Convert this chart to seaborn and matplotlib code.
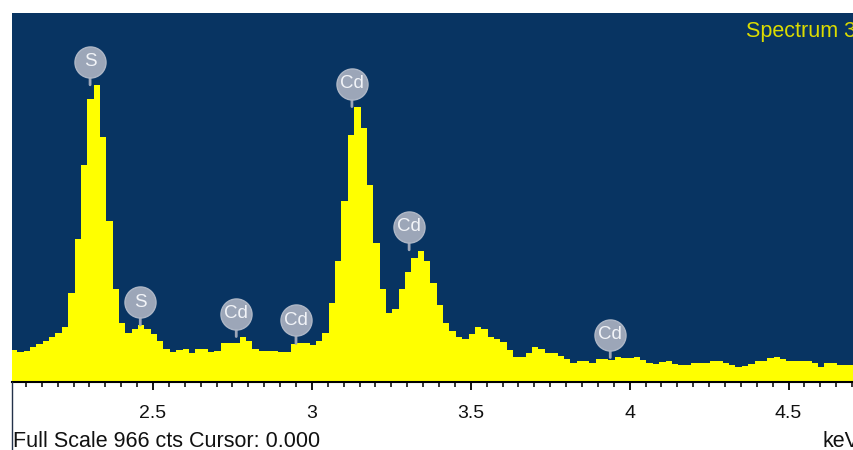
import numpy as np
import pandas as pd
import matplotlib
matplotlib.use("Agg")
import matplotlib.pyplot as plt
from matplotlib.ticker import MultipleLocator
from matplotlib.transforms import offset_copy
import seaborn as sns

# ---- data ----
channel_start = 2.053     # keV, first channel lower edge
channel_width = 0.02      # keV
counts = [
    85, 79, 81, 92, 99, 107, 118, 129, 143, 232,
    374, 568, 741, 778, 642, 422, 243, 154, 129, 139,
    149, 139, 125, 108, 86, 78, 83, 86, 77, 86,
    86, 78, 81, 103, 103, 103, 117, 108, 86, 81,
    81, 81, 78, 78, 99, 103, 103, 97, 108, 129,
    208, 317, 474, 647, 721, 664, 516, 363, 243, 181,
    191, 243, 289, 324, 343, 317, 258, 202, 154, 134,
    117, 113, 125, 143, 139, 117, 112, 106, 85, 66,
    66, 77, 91, 86, 75, 75, 68, 59, 51, 55,
    55, 51, 60, 60, 58, 65, 62, 62, 65, 58,
    49, 46, 53, 56, 47, 45, 45, 51, 51, 51,
    55, 55, 49, 45, 40, 42, 46, 55, 55, 62,
    66, 59, 56, 56, 56, 56, 49, 40, 49, 49,
    45, 45, 45,
]
peak_labels = ["S", "S", "Cd", "Cd", "Cd", "Cd", "Cd"]
peak_energy = [2.302, 2.460, 2.762, 2.950, 3.126, 3.306, 3.939]
peak_height = [778, 149, 119, 101, 721, 346, 64]
tick_values = [2.5, 3, 3.5, 4, 4.5]
tick_labels = ["2.5", "3", "3.5", "4", "4.5"]
full_scale = 966
x_range = (2.0563, 4.706)

n = len(counts)
edges = channel_start + channel_width * np.arange(n + 1)
centers = edges[:-1] + channel_width / 2
df = pd.DataFrame({"energy": centers, "counts": counts})

# ---- style ----
sns.set_style("white")
plt.rcParams["font.family"] = ["Liberation Sans", "DejaVu Sans"]

NAVY = "#083462"
YELLOW = "#FFFF00"

fig = plt.figure(figsize=(8.54, 4.5), dpi=100)
fig.patch.set_facecolor("white")
ax = fig.add_axes([12 / 854, 1 - 382 / 450, 842 / 854, 369 / 450])
ax.set_facecolor(NAVY)

sns.histplot(data=df, x="energy", weights="counts",
             binwidth=channel_width, binrange=(float(edges[0]), float(edges[-1])),
             element="step", fill=True, color=YELLOW, alpha=1,
             linewidth=0, ax=ax)

ax.set_xlim(*x_range)
ax.set_ylim(0, full_scale)
ax.set_xlabel("")
ax.set_ylabel("")
ax.set_yticks([])
for s in ["left", "top", "right"]:
    ax.spines[s].set_visible(False)
ax.spines["bottom"].set_color("black")
ax.spines["bottom"].set_linewidth(1.5)

ax.set_xticks(tick_values)
ax.set_xticklabels(tick_labels)
ax.xaxis.set_minor_locator(MultipleLocator(0.05))
ax.tick_params(axis="x", which="major", direction="out", length=6, width=1.3,
               color="black", labelsize=14, pad=10.5, labelcolor="#111111",
               bottom=True)
ax.tick_params(axis="x", which="minor", direction="out", length=3.5, width=1.1,
               color="black", bottom=True)

# peak labels
CIRCLE = "#9CA6B8"
circ_tr = offset_copy(ax.transData, fig=fig, x=0, y=23, units="dots")
for lab, e, h in zip(peak_labels, peak_energy, peak_height):
    ax.annotate("", xy=(e, h), xytext=(0, 20), textcoords="offset pixels",
                arrowprops=dict(arrowstyle="-", color=CIRCLE, lw=2,
                                shrinkA=0, shrinkB=0), zorder=5)
    ax.scatter([e], [h], s=500, color=CIRCLE, edgecolor="#AEB7C6",
               linewidth=1, transform=circ_tr, zorder=6, clip_on=False)
    ax.text(e, h, lab, transform=circ_tr, ha="center", va="center",
            fontsize=13.5, color="#F2F4F8", zorder=7)

# texts
fig.text(746 / 854, 1 - 37.3 / 450, "Spectrum 3", color="#DCDC00",
         fontsize=15.5, ha="left", va="baseline")
fig.text(13 / 854, 1 - 447 / 450, "Full Scale 966 cts Cursor: 0.000",
         color="#111111", fontsize=15.5, ha="left", va="baseline")
fig.text(823 / 854, 1 - 447 / 450, "keV", color="#111111", fontsize=15.5,
         ha="left", va="baseline")
fig.add_artist(plt.Line2D([12.5 / 854, 12.5 / 854], [0, 1 - 382 / 450],
                          transform=fig.transFigure, color="#23324a", lw=1))

fig.savefig("out.png", dpi=100)
